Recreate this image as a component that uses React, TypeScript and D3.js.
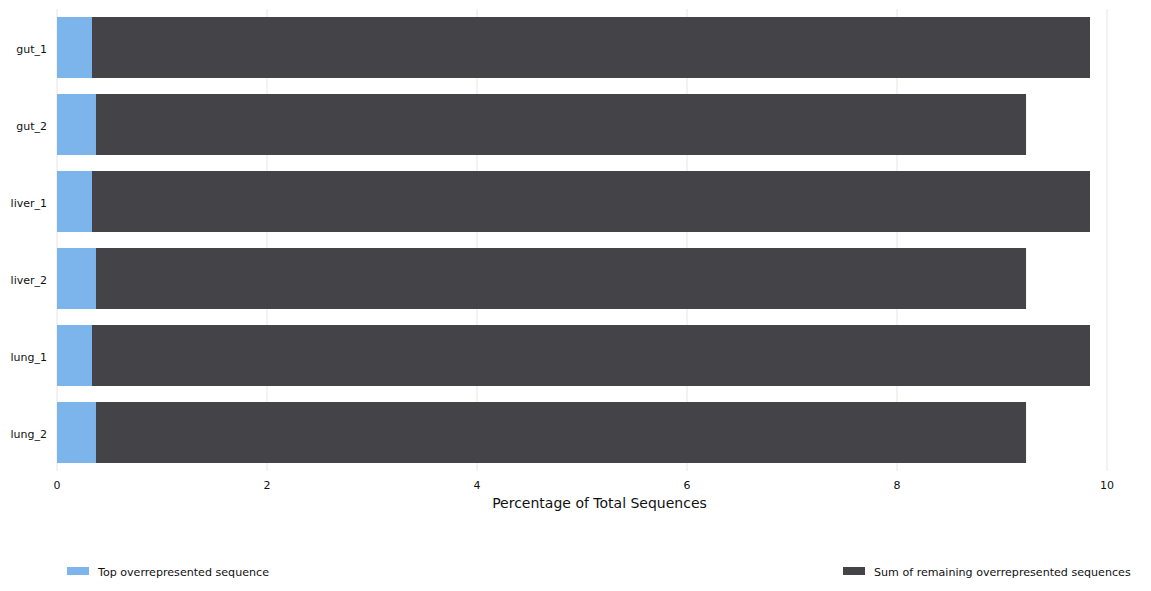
import React from "react";
import * as d3 from "d3";

const categories = ["gut_1", "gut_2", "liver_1", "liver_2", "lung_1", "lung_2"];
const topSeq = [0.333, 0.371, 0.333, 0.371, 0.333, 0.371];
const remainingSeq = [9.505, 8.858, 9.505, 8.858, 9.505, 8.858];
const xTicks = [0, 2, 4, 6, 8, 10];
const seriesNames = ["Top overrepresented sequence", "Sum of remaining overrepresented sequences"];
const colors = ["#7cb5ec", "#434348"];

export default function App() {
  const W = 1151, H = 591;
  const left = 57, right = 1107, top = 9, bottom = 471;
  const x = d3.scaleLinear().domain([0, 10]).range([left, right]);
  const y = d3.scaleBand<string>().domain(categories).range([top, bottom]).paddingInner(0.208).paddingOuter(0.104);
  const font = "DejaVu Sans, sans-serif";
  return (
    <svg width={W} height={H} style={{ position: "absolute", left: 0, top: 0, fontFamily: font }}>
      <rect width={W} height={H} fill="#ffffff" />
      {xTicks.map((t) => (
        <g key={t}>
          <line x1={x(t)} x2={x(t)} y1={top} y2={bottom} stroke="#e6e6e6" strokeWidth={1} />
          <text x={x(t)} y={489} textAnchor="middle" fontSize={11} fill="#111">{t}</text>
        </g>
      ))}
      {categories.map((c, i) => (
        <g key={c}>
          <rect x={x(0)} y={y(c)!} width={x(topSeq[i]) - x(0)} height={y.bandwidth()} fill={colors[0]} />
          <rect x={x(topSeq[i])} y={y(c)!} width={x(topSeq[i] + remainingSeq[i]) - x(topSeq[i])} height={y.bandwidth()} fill={colors[1]} />
          <text x={47} y={y(c)! + y.bandwidth() / 2 + 5} textAnchor="end" fontSize={11} fill="#111">{c}</text>
        </g>
      ))}
      <text x={599.5} y={508} textAnchor="middle" fontSize={14} fill="#111">Percentage of Total Sequences</text>
      <rect x={67} y={567} width={22} height={8} fill={colors[0]} />
      <text x={98} y={576} fontSize={11.1} fill="#111">{seriesNames[0]}</text>
      <rect x={843} y={567} width={22} height={8} fill={colors[1]} />
      <text x={874} y={576} fontSize={11.1} fill="#111">{seriesNames[1]}</text>
    </svg>
  );
}
